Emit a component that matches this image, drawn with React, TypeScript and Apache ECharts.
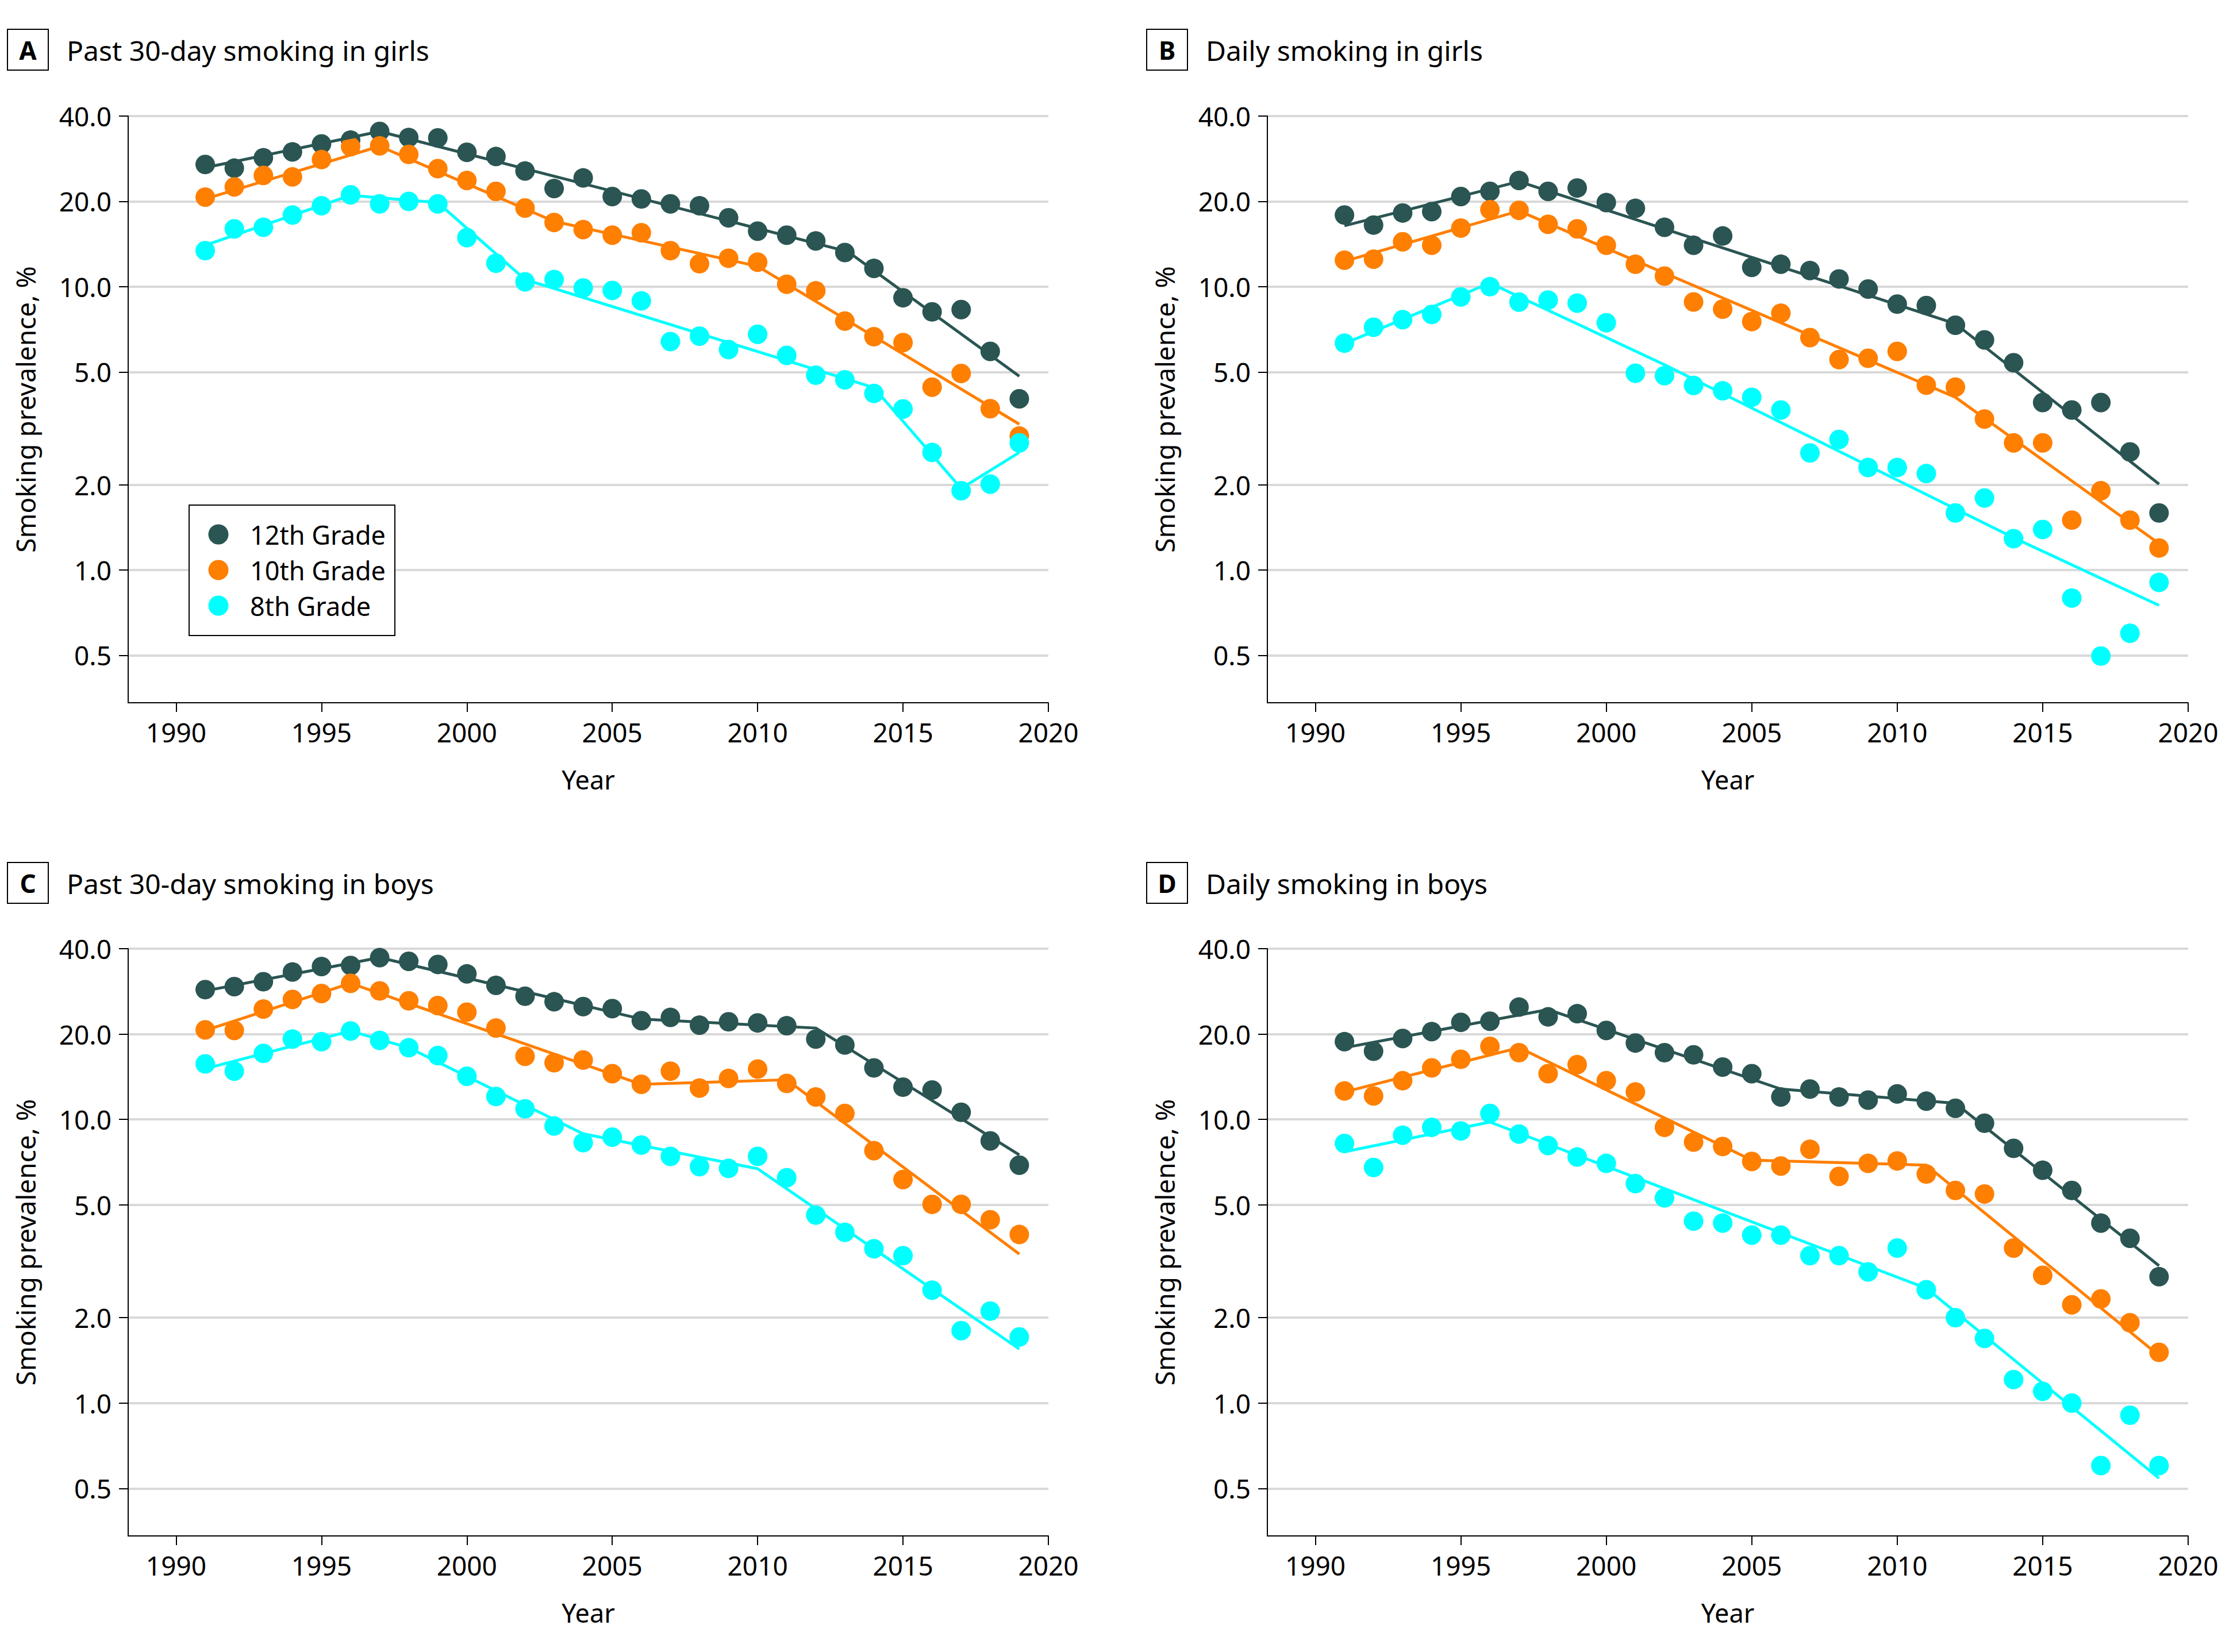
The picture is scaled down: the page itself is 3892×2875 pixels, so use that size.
import React, { useEffect, useRef } from "react";
import * as echarts from "echarts";

// ---------- data ----------
const YEARS = [1991, 1992, 1993, 1994, 1995, 1996, 1997, 1998, 1999, 2000, 2001, 2002, 2003, 2004, 2005, 2006, 2007, 2008, 2009, 2010, 2011, 2012, 2013, 2014, 2015, 2016, 2017, 2018, 2019];
const GRADES = ["12th Grade", "10th Grade", "8th Grade"];
const X_TICKS = [1990, 1995, 2000, 2005, 2010, 2015, 2020];
const Y_TICKS = [0.5, 1, 2, 5, 10, 20, 40];

// A: past 30-day smoking in girls
const A12 = [27.0, 26.2, 28.5, 29.9, 31.9, 32.9, 35.3, 33.6, 33.5, 29.8, 28.8, 25.6, 22.2, 24.2, 20.8, 20.4, 19.6, 19.3, 17.5, 15.7, 15.2, 14.5, 13.2, 11.6, 9.14, 8.15, 8.3, 5.91, 4.02];
const A10 = [20.7, 22.5, 24.7, 24.4, 28.1, 31.2, 31.4, 29.3, 26.1, 23.7, 21.7, 18.95, 16.85, 15.9, 15.2, 15.5, 13.4, 12.05, 12.6, 12.2, 10.2, 9.67, 7.56, 6.66, 6.35, 4.42, 4.94, 3.71, 2.97];
const A8 = [13.4, 16.0, 16.2, 17.9, 19.3, 21.1, 19.6, 20.0, 19.6, 14.9, 12.1, 10.4, 10.6, 9.89, 9.7, 8.91, 6.4, 6.69, 6.0, 6.79, 5.72, 4.87, 4.69, 4.2, 3.7, 2.6, 1.905, 2.01, 2.81];
const A12_FIT = [[1991, 26.3], [1997, 35.3], [2013.1, 13.3], [2019, 4.83]];
const A10_FIT = [[1991, 20.4], [1997, 31.3], [2003, 17.0], [2010, 11.8], [2019, 3.27]];
const A8_FIT = [[1991, 14.0], [1996, 21.0], [1999, 19.8], [2002, 10.6], [2014, 4.4], [2017, 1.94], [2019, 2.6]];

// B: daily smoking in girls
const B12 = [17.9, 16.5, 18.2, 18.4, 20.8, 21.7, 23.7, 21.7, 22.3, 19.8, 18.9, 16.2, 14.0, 15.1, 11.7, 12.0, 11.4, 10.65, 9.81, 8.68, 8.58, 7.31, 6.49, 5.39, 3.9, 3.67, 3.9, 2.61, 1.59];
const B10 = [12.4, 12.5, 14.4, 14.0, 16.1, 18.7, 18.6, 16.6, 16.0, 14.0, 12.0, 10.9, 8.83, 8.33, 7.53, 8.06, 6.61, 5.53, 5.59, 5.91, 4.49, 4.42, 3.41, 2.81, 2.81, 1.5, 1.905, 1.5, 1.196];
const B8 = [6.32, 7.19, 7.65, 7.98, 9.2, 10.0, 8.82, 8.97, 8.75, 7.46, 4.95, 4.85, 4.48, 4.29, 4.07, 3.67, 2.59, 2.89, 2.3, 2.3, 2.19, 1.59, 1.795, 1.29, 1.39, 0.796, 0.497, 0.598, 0.904];
const B12_FIT = [[1991, 16.4], [1997, 23.5], [2012, 7.4], [2019, 2.01]];
const B10_FIT = [[1991, 12.3], [1997, 18.5], [2012, 4.07], [2019, 1.24]];
const B8_FIT = [[1991, 6.3], [1996, 10.3], [2002, 5.3], [2014, 1.3], [2019, 0.75]];

// C: past 30-day smoking in boys
const C12 = [28.7, 29.4, 30.6, 33.1, 34.6, 34.9, 37.2, 36.1, 35.2, 32.6, 29.7, 27.2, 26.0, 25.0, 24.6, 22.3, 22.9, 21.5, 22.1, 21.9, 21.4, 19.2, 18.3, 15.2, 13.0, 12.7, 10.6, 8.4, 6.9];
const C10 = [20.7, 20.6, 24.5, 26.5, 27.8, 30.2, 28.4, 26.2, 25.2, 23.9, 21.0, 16.7, 15.85, 16.2, 14.5, 13.3, 14.8, 12.9, 13.95, 15.05, 13.4, 12.0, 10.5, 7.76, 6.14, 5.02, 5.02, 4.43, 3.93];
const C8 = [15.7, 14.8, 17.1, 19.2, 18.8, 20.5, 19.0, 17.9, 16.8, 14.2, 12.05, 10.9, 9.48, 8.28, 8.66, 8.12, 7.41, 6.82, 6.72, 7.41, 6.23, 4.6, 4.0, 3.5, 3.31, 2.5, 1.8, 2.11, 1.71];
const C12_FIT = [[1991, 28.4], [1997, 37.2], [2006, 22.6], [2012, 21.0], [2019, 7.5]];
const C10_FIT = [[1991, 20.6], [1996, 30.2], [2006, 13.3], [2011, 13.8], [2019, 3.35]];
const C8_FIT = [[1991, 15.1], [1996, 20.5], [1998, 17.9], [2004, 8.9], [2010, 6.7], [2019, 1.55]];

// D: daily smoking in boys
const D12 = [18.8, 17.4, 19.3, 20.4, 22.0, 22.2, 24.9, 23.0, 23.6, 20.6, 18.6, 17.2, 16.9, 15.3, 14.5, 12.0, 12.8, 12.0, 11.7, 12.3, 11.6, 10.95, 9.7, 7.91, 6.62, 5.62, 4.31, 3.81, 2.79];
const D10 = [12.6, 12.1, 13.7, 15.2, 16.3, 18.1, 17.2, 14.5, 15.6, 13.7, 12.5, 9.38, 8.32, 8.03, 7.11, 6.85, 7.85, 6.3, 7.0, 7.14, 6.42, 5.62, 5.46, 3.52, 2.82, 2.22, 2.33, 1.92, 1.51];
const D8 = [8.23, 6.77, 8.8, 9.38, 9.11, 10.5, 8.88, 8.09, 7.37, 7.0, 5.94, 5.29, 4.38, 4.31, 3.91, 3.91, 3.31, 3.31, 2.9, 3.52, 2.51, 2.0, 1.69, 1.21, 1.1, 1.0, 0.602, 0.906, 0.602];
const D12_FIT = [[1991, 17.9], [1998, 24.4], [2006, 12.8], [2012, 11.4], [2019, 3.05]];
const D10_FIT = [[1991, 12.5], [1997, 17.9], [2005, 7.19], [2011, 6.9], [2019, 1.47]];
const D8_FIT = [[1991, 7.69], [1996, 9.79], [2011, 2.54], [2019, 0.543]];

// ---------- styling ----------
const COLORS = ["#2a5552", "#ff7f00", "#00ffff"];
const FONT = '"Noto Sans", "Open Sans", sans-serif';
const W = 3892;
const H = 2875;

const PANELS = [
  { letter: "A", title: "Past 30-day smoking in girls", left: 223, top: 202, width: 1601, height: 1021, boxX: 13, boxY: 51, pts: [A12, A10, A8], fits: [A12_FIT, A10_FIT, A8_FIT] },
  { letter: "B", title: "Daily smoking in girls", left: 2205, top: 202, width: 1602, height: 1021, boxX: 1995, boxY: 51, pts: [B12, B10, B8], fits: [B12_FIT, B10_FIT, B8_FIT] },
  { letter: "C", title: "Past 30-day smoking in boys", left: 223, top: 1651, width: 1601, height: 1022, boxX: 13, boxY: 1501, pts: [C12, C10, C8], fits: [C12_FIT, C10_FIT, C8_FIT] },
  { letter: "D", title: "Daily smoking in boys", left: 2205, top: 1651, width: 1602, height: 1022, boxX: 1995, boxY: 1501, pts: [D12, D10, D8], fits: [D12_FIT, D10_FIT, D8_FIT] },
];

// legend box (panel A)
const LEGEND_BOX = { x: 329, y: 879, width: 358, height: 227 };
const LEGEND_ROW0 = 930;
const LEGEND_STEP = 62;

function buildOption() {
  const grid = PANELS.map((p) => ({
    left: p.left,
    top: p.top,
    width: p.width,
    height: p.height,
    containLabel: false,
    outerBoundsMode: "none",
  }));

  const xAxis = PANELS.map((p, i) => ({
    gridIndex: i,
    type: "value",
    min: 1988.35,
    max: 2020,
    name: "Year",
    nameLocation: "middle",
    nameGap: 111,
    nameTextStyle: { fontSize: 45, fontFamily: FONT, color: "#000" },
    axisLine: { show: true, onZero: false, lineStyle: { color: "#000", width: 2 } },
    axisTick: { show: true, length: 16, customValues: X_TICKS, lineStyle: { color: "#000", width: 2 } },
    axisLabel: {
      customValues: X_TICKS,
      fontSize: 46,
      fontFamily: FONT,
      color: "#000",
      margin: 28,
      formatter: (v: number) => String(Math.round(Number(v))),
    },
    splitLine: { show: false },
  }));

  const yAxis = PANELS.map((p, i) => ({
    gridIndex: i,
    type: "log",
    logBase: 10,
    min: 0.34,
    max: 40,
    name: "Smoking prevalence, %",
    nameLocation: "middle",
    nameRotate: 90,
    nameGap: 156,
    nameTextStyle: { fontSize: 46, fontFamily: FONT, color: "#000" },
    axisLine: { show: true, onZero: false, lineStyle: { color: "#000", width: 2 } },
    axisTick: { show: true, length: 16, customValues: Y_TICKS, lineStyle: { color: "#000", width: 2 } },
    axisLabel: {
      customValues: Y_TICKS,
      fontSize: 46,
      fontFamily: FONT,
      color: "#000",
      margin: 29,
      formatter: (v: number) => Number(v).toFixed(1),
    },
    splitLine: { show: true, lineStyle: { color: "#d9d9d9", width: 4 } },
  }));

  const series: any[] = [];
  PANELS.forEach((p, i) => {
    GRADES.forEach((g, k) => {
      series.push({
        type: "scatter",
        name: g,
        xAxisIndex: i,
        yAxisIndex: i,
        symbol: "circle",
        symbolSize: 34,
        itemStyle: { color: COLORS[k], opacity: 1 },
        z: 2 + k * 0.1,
        data: YEARS.map((y, j) => [y, p.pts[k][j]]),
      });
    });
    GRADES.forEach((g, k) => {
      series.push({
        type: "line",
        name: g + " fit",
        xAxisIndex: i,
        yAxisIndex: i,
        showSymbol: false,
        symbol: "none",
        lineStyle: { color: COLORS[k], width: 5 },
        itemStyle: { color: COLORS[k] },
        z: 3,
        data: p.fits[k],
      });
    });
  });

  const graphic: any[] = [];
  PANELS.forEach((p) => {
    graphic.push({
      type: "rect",
      z: 100,
      shape: { x: p.boxX, y: p.boxY, width: 71, height: 71 },
      style: { fill: "#fff", stroke: "#000", lineWidth: 2 },
    });
    graphic.push({
      type: "text",
      z: 101,
      x: p.boxX + 35.5,
      y: p.boxY + 36,
      style: {
        text: p.letter,
        fontSize: 44,
        fontWeight: "bold",
        fontFamily: FONT,
        fill: "#000",
        align: "center",
        verticalAlign: "middle",
        textAlign: "center",
        textVerticalAlign: "middle",
      },
    });
    graphic.push({
      type: "text",
      z: 101,
      x: p.boxX + 103,
      y: p.boxY + 36,
      style: {
        text: p.title,
        fontSize: 48,
        fontFamily: FONT,
        fill: "#000",
        align: "left",
        verticalAlign: "middle",
        textAlign: "left",
        textVerticalAlign: "middle",
      },
    });
  });

  // legend (drawn as graphic for exact placement)
  graphic.push({
    type: "rect",
    z: 100,
    shape: { ...LEGEND_BOX },
    style: { fill: "#fff", stroke: "#000", lineWidth: 2 },
  });
  GRADES.forEach((g, k) => {
    graphic.push({
      type: "circle",
      z: 101,
      shape: { cx: 380, cy: LEGEND_ROW0 + LEGEND_STEP * k, r: 17.5 },
      style: { fill: COLORS[k] },
    });
    graphic.push({
      type: "text",
      z: 101,
      x: 435,
      y: LEGEND_ROW0 + LEGEND_STEP * k,
      style: {
        text: g,
        fontSize: 45,
        fontFamily: FONT,
        fill: "#000",
        align: "left",
        verticalAlign: "middle",
        textAlign: "left",
        textVerticalAlign: "middle",
      },
    });
  });

  return {
    animation: false,
    backgroundColor: "#fff",
    grid,
    xAxis,
    yAxis,
    series,
    graphic,
  };
}

export default function App() {
  const ref = useRef<HTMLDivElement>(null);
  useEffect(() => {
    if (!ref.current) return;
    const chart = echarts.init(ref.current, undefined, { renderer: "svg", width: W, height: H });
    chart.setOption(buildOption() as any);
    return () => chart.dispose();
  }, []);
  return (
    <div
      ref={ref}
      style={{ position: "fixed", left: 0, top: 0, width: W, height: H, background: "#fff", overflow: "hidden" }}
    />
  );
}
